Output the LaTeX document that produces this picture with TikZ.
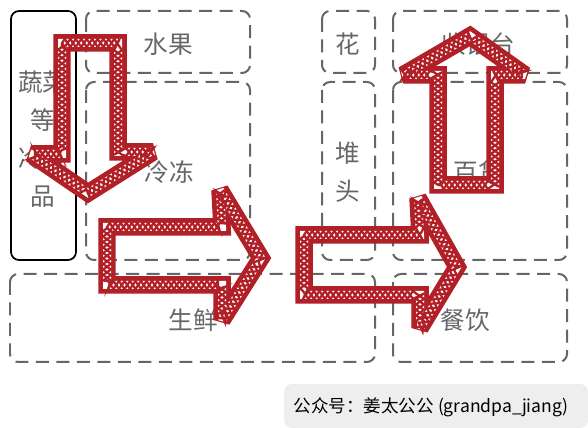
\documentclass[tikz,border=0pt]{standalone}
\usepackage{fontspec}
\usetikzlibrary{decorations.pathmorphing}
\newfontfamily\cjk{Noto Sans CJK SC}
\definecolor{boxgray}{HTML}{666666}
\definecolor{arrowred}{HTML}{B11F27}
\definecolor{notegray}{HTML}{EEEEEE}

\tikzset{
	zone/.style={draw=boxgray, line width=0.4mm, dash pattern=on 2.6mm off 1.5mm, rounded corners=1.6mm},
	shelf/.style={draw=black, line width=0.35mm, rounded corners=1.6mm},
	tag/.style={text=boxgray, font=\cjk\fontsize{14}{21.5}\selectfont, align=center, inner sep=0pt},
	band/.style={draw=arrowred, line width=3.5mm, line join=miter, miter limit=3},
	inside/.style={draw=white, line width=1.6mm, line join=miter, miter limit=3},
	zig/.style={draw=arrowred, line width=0.45mm, decorate, decoration={zigzag, amplitude=0.8mm, segment length=2.2mm}},
	zag/.style={zig, decoration={mirror}},
}
\newcommand{\sketcharrow}[1]{\draw[band] #1; \draw[inside] #1; \draw[zig] #1; \draw[zag] #1;}

\begin{document}
\begin{tikzpicture}[x=0.02cm, y=-0.02cm]
	\useasboundingbox (0,0) rectangle (588,428);
	% store zones
	\draw[shelf] (11,11) rectangle (76,260);
	\draw[zone] (86,11) rectangle (250,73);
	\draw[zone] (86,82) rectangle (250,260);
	\draw[zone] (322,11) rectangle (375,73);
	\draw[zone] (322,82) rectangle (375,260);
	\draw[zone] (393,11) rectangle (567,73);
	\draw[zone] (393,82) rectangle (567,260);
	\draw[zone] (10,274) rectangle (375,362);
	\draw[zone] (393,274) rectangle (567,362);
	% zone names
	\node[tag] (veg) at (43,139) {蔬菜\\等\\冷藏\\品};
	\node[tag] (fruit) at (168,44) {水果};
	\node[tag] (frozen) at (169,172) {冷冻};
	\node[tag] (flower) at (348,44) {花};
	\node[tag] (stack) at (348,172) {堆\\头};
	\node[tag] (till) at (478,44) {收银台};
	\node[tag] (goods) at (478,172) {百货};
	\node[tag] (fresh) at (193,320) {生鲜};
	\node[tag] (food) at (465,320) {餐饮};
	% walking route
	\sketcharrow{(62,43)--(118,43)--(118,152)--(153,152)--(88,193)--(31,154)--(62,154)--cycle}
	\sketcharrow{(107,227)--(222,227)--(220,190)--(261,258)--(222,320)--(222,285)--(107,285)--cycle}
	\sketcharrow{(304,235)--(420,235)--(418,198)--(457,267)--(420,328)--(420,295)--(304,295)--cycle}
	\sketcharrow{(438,185)--(438,75)--(403,75)--(470,36)--(525,75)--(495,75)--(495,185)--cycle}
	% footer
	\fill[notegray, rounded corners=1.6mm] (284,384) rectangle (588,428);
	\node[font=\cjk\fontsize{10}{12}\selectfont, inner sep=0pt] (author) at (431,407) {公众号：姜太公公 (grandpa\_jiang)};
\end{tikzpicture}
\end{document}
